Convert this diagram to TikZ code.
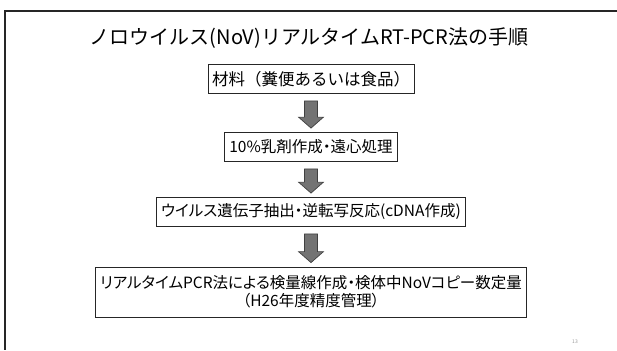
\documentclass[tikz,border=0pt]{standalone}
\usepackage{fontspec}
\setmainfont{Noto Sans CJK JP}
\newfontfamily\propjp[RawFeature=+palt]{Noto Sans CJK JP}
\usepackage{tikz}
\usetikzlibrary{calc}

\tikzset{
  stepbox/.style={draw=black!85,line width=0.8pt,fill=white,inner xsep=4pt,inner ysep=2pt,
    minimum height=29pt,font=\fontsize{16.5}{18}\selectfont},
  narrowbox/.style={stepbox,inner xsep=5pt,font=\propjp\fontsize{15.5}{18}\selectfont},
  bigarrow/.style={draw=black!75,line width=0.7pt,fill=black!55}
}
\newcommand{\downarrowbox}[2]{%
  \draw[bigarrow] ($(#1.south)+(-6.5,-7)$) -- ($(#1.south)+(6.5,-7)$)
    -- ($(#2.north)+(6.5,15)$) -- ($(#2.north)+(12.5,15)$) -- ($(#2.north)+(0,4)$)
    -- ($(#2.north)+(-12.5,15)$) -- ($(#2.north)+(-6.5,15)$) -- cycle;}

\begin{document}
\begin{tikzpicture}[x=1pt,y=1pt]
\useasboundingbox (0,0) rectangle (617,-350);
\draw[line width=1.8pt,black!85] (617,-11)--(5,-11)--(5,-350);
\node (title) at (309,-38) {\fontsize{20}{22}\selectfont ノロウイルス(NoV)リアルタイムRT-PCR法の手順};
\node[stepbox] (mat) at (311,-79) {材料（糞便あるいは食品）};
\node[narrowbox] (emul) at (311,-147) {10\%乳剤作成・遠心処理};
\node[narrowbox] (rt) at (311,-212) {ウイルス遺伝子抽出・逆転写反応(cDNA作成)};
\node[narrowbox,align=center,minimum height=50pt] (qpcr) at (311,-292)
  {リアルタイムPCR法による検量線作成・検体中NoVコピー数定量\\（H26年度精度管理）};
\downarrowbox{mat}{emul}
\downarrowbox{emul}{rt}
\downarrowbox{rt}{qpcr}
\node[black!40,font=\fontsize{5}{6}\selectfont] (pg) at (575,-342) {13};
\end{tikzpicture}
\end{document}
